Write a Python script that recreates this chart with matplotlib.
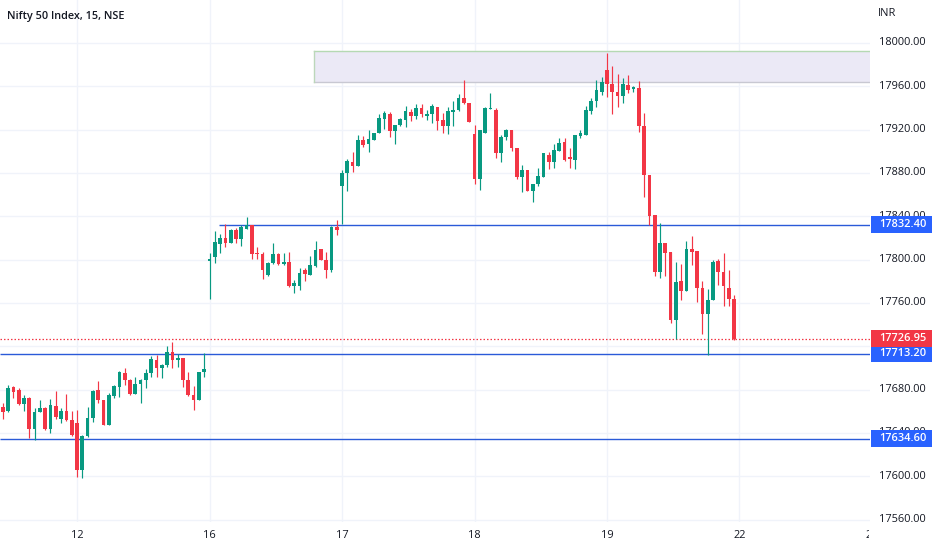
import matplotlib
matplotlib.use("Agg")
import matplotlib.pyplot as plt
import matplotlib.transforms as mtransforms
from matplotlib.patches import Rectangle
from matplotlib.transforms import Bbox
import numpy as np

plt.rcParams['font.family'] = ['Open Sans', 'DejaVu Sans']

# ---------------- data ----------------
title = "Nifty 50 Index, 15, NSE"
currency = "INR"
session_labels = ["12", "16", "17", "18", "19", "22", "23"]
session_counts = [14, 25, 25, 25, 25, 25, 25]   # 15-min candles before each label / per session

opens = [
    17664, 17660, 17682, 17680, 17667, 17672, 17644, 17659, 17663, 17644, 17665, 17653, 17660, 17652,
    17649, 17606, 17637, 17654, 17680, 17670, 17647, 17674, 17682, 17695, 17689, 17676, 17685, 17689, 17695,
    17707, 17700, 17703, 17715, 17707, 17709, 17689, 17675, 17670, 17696,
    17799, 17802, 17814, 17820, 17815, 17827, 17819, 17828, 17832, 17806, 17805, 17786, 17797, 17805, 17796,
    17798, 17776, 17776, 17790, 17786, 17794, 17810, 17800, 17790, 17830,
    17868, 17880, 17890, 17886, 17910, 17907, 17910, 17917, 17930, 17934, 17919, 17924, 17929, 17936, 17933,
    17940, 17933, 17934, 17941, 17929, 17923, 17936, 17938, 17949, 17945,
    17916, 17874, 17917, 17939, 17938, 17898, 17913, 17920, 17903, 17876, 17883, 17863, 17870, 17876, 17897,
    17890, 17900, 17909, 17895, 17892, 17914, 17915, 17937, 17946, 17955,
    17975, 17962, 17955, 17951, 17961, 17957.5, 17958, 17923, 17878, 17841, 17789, 17815, 17807, 17744, 17780,
    17771, 17810, 17808, 17774, 17750, 17763, 17799, 17789, 17774, 17764,
]
highs = [
    17668, 17684, 17683, 17681, 17675, 17673, 17663, 17670, 17664, 17671, 17679, 17663, 17676, 17660,
    17661, 17638, 17664, 17680, 17688, 17670, 17677, 17684, 17697, 17700, 17690, 17692, 17690, 17699, 17711,
    17712, 17704, 17720, 17724, 17713, 17709, 17696, 17683, 17696, 17714,
    17806, 17826, 17824, 17833, 17828, 17829, 17832, 17839, 17832, 17812, 17807, 17798, 17815, 17806, 17806,
    17807, 17781, 17792, 17792, 17803, 17817, 17810, 17807, 17831, 17837,
    17883, 17893, 17899, 17915, 17914, 17920, 17917, 17934, 17937, 17936, 17924, 17931, 17942, 17939, 17944,
    17944, 17938, 17944, 17941, 17935, 17941, 17946, 17953, 17966, 17945,
    17924, 17920, 17941, 17954, 17940, 17915, 17921, 17920, 17903, 17887, 17883, 17870, 17885, 17898, 17899,
    17907, 17912, 17912, 17903, 17915, 17920, 17942, 17949, 17966, 17969,
    17991, 17979, 17971, 17968, 17970, 17960, 17965, 17935, 17878, 17841, 17834, 17815, 17807, 17798, 17796,
    17817, 17822, 17808, 17780, 17773, 17800, 17801, 17806, 17790, 17767,
]
lows = [
    17653, 17659, 17672, 17666, 17660, 17635, 17633, 17659, 17643, 17640, 17653, 17649, 17651, 17637,
    17599, 17598, 17636, 17650, 17668, 17647, 17647, 17672, 17673, 17684, 17675, 17676, 17668, 17681, 17692,
    17692, 17691, 17701, 17700, 17701, 17682, 17674, 17661, 17670, 17692,
    17764, 17797, 17806, 17812, 17815, 17815, 17813, 17828, 17801, 17801, 17782, 17785, 17796, 17795, 17795,
    17775, 17769, 17772, 17780, 17786, 17793, 17800, 17783, 17789, 17823,
    17833, 17863, 17881, 17886, 17904, 17899, 17910, 17917, 17921, 17913, 17907, 17923, 17922, 17928, 17930,
    17932, 17929, 17926, 17920, 17917, 17916, 17923, 17937, 17944, 17927,
    17870, 17864, 17917, 17939, 17894, 17890, 17910, 17900, 17874, 17862, 17863, 17853, 17868, 17876, 17884,
    17885, 17900, 17891, 17885, 17884, 17912, 17915, 17934, 17941, 17952,
    17950, 17934, 17941, 17945, 17954, 17955, 17918, 17858, 17832, 17785, 17783, 17785, 17741, 17727, 17763,
    17771, 17795, 17761, 17731, 17712, 17763, 17777, 17757, 17757, 17726,
]
closes = [
    17659, 17681, 17678, 17667, 17672, 17644, 17659, 17663, 17644, 17666, 17655, 17660, 17652, 17638,
    17606, 17637, 17654, 17679, 17670, 17647, 17675, 17683, 17696, 17689, 17676, 17685, 17689, 17695, 17708,
    17700, 17703, 17715, 17707, 17709, 17689, 17675, 17670, 17696, 17699,
    17801, 17816, 17820, 17815, 17827, 17819, 17830, 17832, 17805, 17805, 17790, 17797, 17805, 17796, 17798,
    17776, 17778, 17788, 17787, 17795, 17809, 17800, 17790, 17830, 17827,
    17880, 17891, 17886, 17910, 17906, 17911, 17917, 17931, 17935, 17919, 17924, 17930, 17937, 17933, 17940,
    17934, 17934.5, 17942, 17928, 17923, 17937, 17938, 17949, 17945, 17927,
    17874, 17920, 17940, 17940, 17898, 17913, 17920, 17903, 17876, 17883, 17863, 17870, 17877, 17898, 17890,
    17901, 17908, 17892, 17892.5, 17915, 17917, 17938, 17946, 17957, 17964,
    17962, 17955, 17951, 17962, 17957, 17959, 17923, 17878, 17840, 17789, 17815, 17806, 17744, 17779, 17771,
    17810, 17807, 17774, 17750, 17763, 17798, 17789, 17776, 17764, 17726.95,
]

price_ticks = [17560, 17600, 17640, 17680, 17720, 17760, 17800, 17840, 17880, 17920, 17960, 18000]
hidden_tick = 17720                        # fully covered by the price badges
level_lines = [17832.40, 17713.20, 17634.60]
level_start = [40.8, None, None]          # bar index where a line starts (None = full width)
last_price = 17726.95
zone_low, zone_high, zone_start = 17964.3, 17992.9, 58.7

# ---------------- style ----------------
W, H = 932, 550
GREEN, RED, BLUE = '#089981', '#f23645', '#2962ff'
LINE_BLUE = '#2a5ad8'
TXT = '#131722'
GRID = '#f0f3fa'
FS = 7.9

fig = plt.figure(figsize=(W / 100, H / 100), dpi=100)
fig.patch.set_facecolor('white')
plot_right, plot_bottom = 870, 522
ax = fig.add_axes([0, (H - plot_bottom) / H, plot_right / W, plot_bottom / H])
for s in ax.spines.values():
    s.set_visible(False)
ax.set_xticks([])
ax.set_yticks([])

n = len(opens)
x = np.arange(n)
step = 5.3
ax.set_xlim(-2.8 / step, (plot_right - 2.8) / step)
ax.set_ylim(17557.7, 18039.7)

label_pos = list(np.cumsum(session_counts)[:len(session_labels)])

# grid
for v in price_ticks:
    ax.axhline(v, color=GRID, lw=1.0, zorder=0)
for p in label_pos:
    ax.axvline(p, color=GRID, lw=1.0, zorder=0)

# zone rectangle
ax.add_patch(Rectangle((zone_start, zone_low), 500, zone_high - zone_low,
                       facecolor='#ebe9f6', edgecolor='none', zorder=1))
ax.plot([zone_start, 500], [zone_high, zone_high], color='#b5d9b3', lw=1.0, zorder=1.1)
ax.plot([zone_start, 500], [zone_low, zone_low], color='#c8c8d2', lw=1.0, zorder=1.1)
ax.plot([zone_start, zone_start], [zone_low, zone_high], color='#bcd7ba', lw=1.0, zorder=1.1)

# level lines
xr = ax.get_xlim()[1]
for v, st in zip(level_lines, level_start):
    x0 = st if st is not None else ax.get_xlim()[0]
    ax.plot([x0, xr], [v, v], color=LINE_BLUE, lw=1.0, zorder=2, solid_capstyle='butt')
ax.axhline(last_price, color=RED, lw=0.9, ls=(0, (1.2, 1.6)), zorder=2)

# candles
o = np.array(opens, float); h = np.array(highs, float)
l = np.array(lows, float); c = np.array(closes, float)
up = c >= o
cols = np.where(up, GREEN, RED)
ax.vlines(x, l, h, colors=cols, lw=0.85, zorder=3)
bottom = np.minimum(o, c)
height = np.maximum(np.abs(c - o), 0.9)
ax.bar(x, height, bottom=bottom, width=0.7, color=cols, linewidth=0, zorder=4)

# ---------------- text ----------------
fig.text(7 / W, 1 - 17 / H, title, fontsize=7.8, fontweight='semibold', color=TXT,
         ha='left', va='center')
fig.text(878 / W, 1 - 14 / H, currency, fontsize=FS, color=TXT, ha='left', va='center')

ytr = mtransforms.blended_transform_factory(fig.transFigure, ax.transData)
panel_clip = Bbox.from_extents(plot_right, H - plot_bottom, W, H)
for v in price_ticks:
    if v == hidden_tick:
        continue
    t = fig.text(879 / W, v, f"{v:.2f}", transform=ytr, fontsize=FS, color=TXT,
                 ha='left', va='center')
    t.set_clip_box(panel_clip)

xtr = mtransforms.blended_transform_factory(ax.transData, fig.transFigure)
time_clip = Bbox.from_extents(0, 0, plot_right - 1, H)
for p, s in zip(label_pos, session_labels):
    t = fig.text(p, 1 - 535 / H, s, transform=xtr, fontsize=FS, color=TXT,
                 ha='center', va='center')
    t.set_clip_box(time_clip)

# price badges
bh = 16.5 * (18039.7 - 17557.7) / plot_bottom
badges = [(level_lines[0], BLUE), (level_lines[2], BLUE), (level_lines[1], BLUE), (last_price, RED)]
for v, colr in badges:
    r = Rectangle((871 / W, v - bh / 2), 61 / W, bh, transform=ytr, facecolor=colr,
                  edgecolor='none', zorder=4)
    fig.add_artist(r)
    fig.text(879 / W, v, f"{v:.2f}", transform=ytr, fontsize=FS, color='white',
             fontweight='semibold', ha='left', va='center', zorder=5)

fig.savefig('out.png', dpi=100, facecolor='white')
